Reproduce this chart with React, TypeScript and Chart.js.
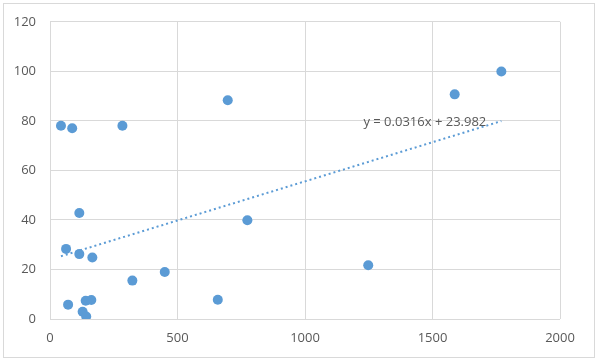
import React, { useEffect, useRef } from "react";
import { Chart, registerables } from "chart.js";

Chart.register(...registerables);

const xValues = [43, 87, 284, 697, 1587, 1770, 115, 63, 115, 166, 774, 450, 323, 71, 140, 162, 658, 128, 142, 1248];
const yValues = [78.0, 77.0, 78.0, 88.3, 90.7, 99.9, 42.8, 28.3, 26.2, 24.8, 39.9, 19.0, 15.5, 5.8, 7.4, 7.7, 7.8, 2.9, 1.0, 21.7];
const trendSlope = 0.0316;
const trendIntercept = 23.982;
const trendLabel = "y = 0.0316x + 23.982";
const xTicks = [0, 500, 1000, 1500, 2000];
const yTicks = [0, 20, 40, 60, 80, 100, 120];

const FONT = "'Open Sans', 'Liberation Sans', sans-serif";
const TEXT = "#595959";
const GRID = "#d9d9d9";
const BLUE = "#5b9bd5";

export default function App() {
  const ref = useRef<HTMLCanvasElement | null>(null);

  useEffect(() => {
    document.body.style.margin = "0";
    const canvas = ref.current;
    if (!canvas) return;
    const xmin = Math.min(...xValues);
    const xmax = Math.max(...xValues);
    const trend = [
      { x: xmin, y: trendSlope * xmin + trendIntercept },
      { x: xmax, y: trendSlope * xmax + trendIntercept },
    ];

    const frame = {
      id: "frame",
      beforeDraw(chart: any) {
        const ctx = chart.ctx;
        ctx.save();
        ctx.fillStyle = "#ffffff";
        ctx.fillRect(0, 0, chart.width, chart.height);
        ctx.strokeStyle = GRID;
        ctx.lineWidth = 1;
        ctx.strokeRect(3.5, 3.5, 591, 354);
        ctx.restore();
      },
      afterDatasetsDraw(chart: any) {
        const ctx = chart.ctx;
        const xs = chart.scales.x;
        const ys = chart.scales.y;
        ctx.save();
        ctx.font = `13px ${FONT}`;
        ctx.fillStyle = TEXT;
        ctx.textAlign = "center";
        ctx.textBaseline = "middle";
        const px = xs.getPixelForValue(1470);
        const py = ys.getPixelForValue(79.5);
        ctx.fillText(trendLabel, px, py);
        ctx.restore();
      },
    };

    const chart = new Chart(canvas, {
      type: "scatter",
      data: {
        datasets: [
          {
            label: "data",
            data: xValues.map((x, i) => ({ x, y: yValues[i] })),
            backgroundColor: BLUE,
            borderColor: BLUE,
            pointRadius: 5,
            pointBorderWidth: 0,
            order: 1,
          },
          {
            label: "trend",
            type: "line",
            data: trend,
            borderColor: BLUE,
            borderWidth: 2,
            borderDash: [2, 3],
            pointRadius: 0,
            fill: false,
            showLine: true,
            order: 2,
          } as any,
        ],
      },
      options: {
        animation: false,
        responsive: false,
        devicePixelRatio: 1,
        layout: { padding: { top: 21, right: 40, left: 0, bottom: 0 } },
        plugins: {
          legend: { display: false },
          tooltip: { enabled: false },
        },
        scales: {
          x: {
            type: "linear",
            min: 0,
            max: 2000,
            afterBuildTicks: (s: any) => {
              s.ticks = xTicks.map((v) => ({ value: v }));
            },
            afterFit: (s: any) => {
              s.height = 45;
            },
            grid: { color: GRID, lineWidth: 1, drawTicks: false },
            border: { display: false },
            ticks: {
              color: TEXT,
              font: { family: FONT, size: 13 },
              padding: 11,
              callback: (v: any) => String(v),
            },
          },
          y: {
            type: "linear",
            min: 0,
            max: 120,
            afterBuildTicks: (s: any) => {
              s.ticks = yTicks.map((v) => ({ value: v }));
            },
            afterFit: (s: any) => {
              s.width = 50;
            },
            grid: { color: GRID, lineWidth: 1, drawTicks: false },
            border: { display: false },
            ticks: {
              color: TEXT,
              font: { family: FONT, size: 13 },
              padding: 14,
              callback: (v: any) => String(v),
            },
          },
        },
      },
      plugins: [frame],
    });
    return () => chart.destroy();
  }, []);

  return <canvas ref={ref} width={600} height={364} style={{ display: "block" }} />;
}
